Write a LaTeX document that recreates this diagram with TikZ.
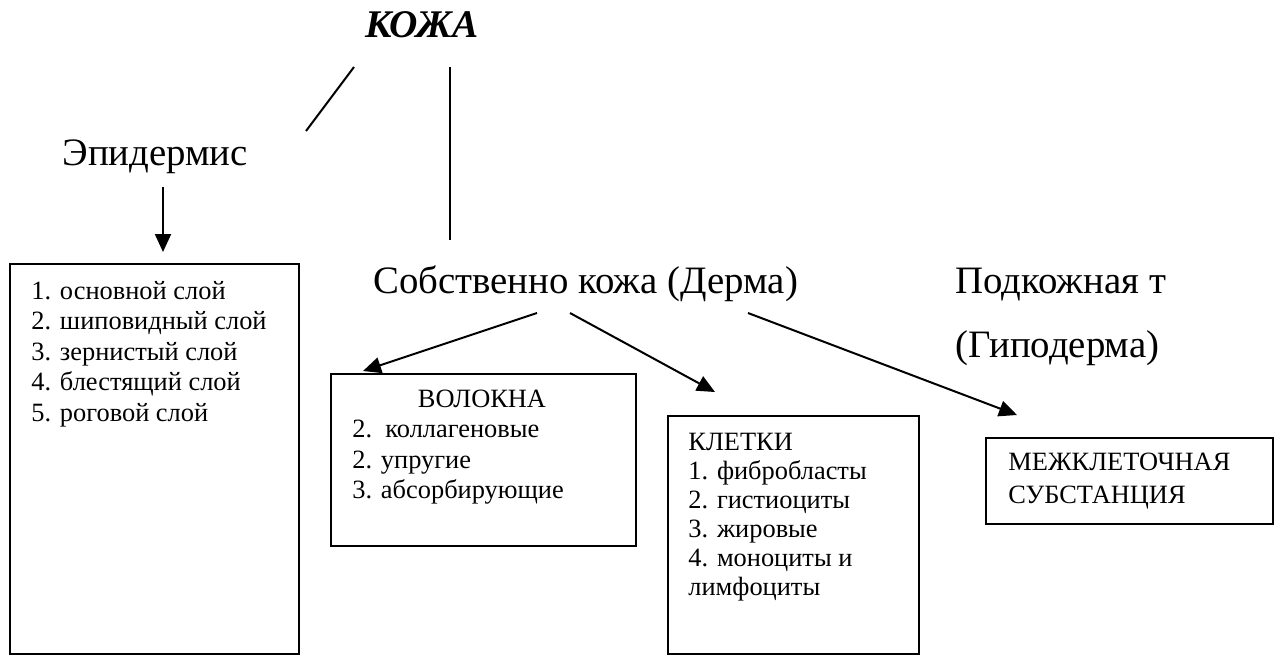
\documentclass[tikz,border=0pt]{standalone}
\usepackage{fontspec}
\setmainfont{Liberation Serif}
\usepackage{tikz}
\usetikzlibrary{arrows.meta}
\tikzset{
	heading/.style={font=\fontsize{19.4}{23}\selectfont, inner sep=0pt, anchor=base west},
	boxtext/.style={font=\fontsize{13.2}{15.25}\selectfont, inner sep=0pt, align=left, anchor=north west},
	frame/.style={draw, line width=0.9pt, inner sep=0pt, anchor=north west},
	link/.style={line width=1pt},
	arrow/.style={link, -{Triangle[length=9pt,width=8pt]}}
}
\newcommand{\layerbox}[5] % name, left in px, top in px, width in px, height in px
{
	% frame only, text is set on its own
	\node[frame, minimum width=#4*0.5pt, minimum height=#5*0.5pt] (#1) at (#2,#3) {};
}

\begin{document}
\begin{tikzpicture}[x=0.5pt, y=-0.5pt]
	% 1277px x 655px, origin top left
	% 1px = 0.5pt
	\useasboundingbox (0,0) rectangle (1277,655);

	% headings
	\node[font=\fontsize{19.6}{23}\selectfont\bfseries\itshape, inner sep=0pt, anchor=base] (skin) at (422,37) {КОЖА};
	\node[heading] (epi) at (62,165) {Эпидермис};
	\node[heading] (derm) at (373,293) {Собственно кожа (Дерма)};
	\node[heading] (hypo) at (955,293) {Подкожная т};
	\node[heading] (hypob) at (955,357) {(Гиподерма)};

	% frames
	\layerbox{layers}{9}{263}{289}{390};
	\layerbox{fibres}{330}{373}{305}{172};
	\layerbox{cells}{667}{415}{251}{238};
	\layerbox{matrix}{985}{437}{287}{86};

	% texts in the frames
	\node[boxtext] (layerlist) at (31,281) {1. основной слой\\2. шиповидный слой\\3. зернистый слой\\4. блестящий слой\\5. роговой слой};
	\node[boxtext, anchor=base] (fibtitle) at (482,407) {ВОЛОКНА};
	\node[boxtext] (fiblist) at (352,420) {2.~~коллагеновые\\2. упругие\\3. абсорбирующие};
	\node[boxtext, font=\fontsize{13.2}{14.5}\selectfont] (celllist) at (688,433) {КЛЕТКИ\\1. фибробласты\\2. гистиоциты\\3. жировые\\4. моноциты и\\лимфоциты};
	\node[boxtext, font=\fontsize{13.2}{16.5}\selectfont] (matrixtext) at (1008,453) {МЕЖКЛЕТОЧНАЯ\\СУБСТАНЦИЯ};

	% line ends
	\coordinate (skinl) at (354,67);
	\coordinate (epit) at (306,131);
	\coordinate (skinr) at (450,67);
	\coordinate (dermt) at (450,240);
	\coordinate (epib) at (163,187);
	\coordinate (layerst) at (163,252);
	\coordinate (derma) at (537,313);
	\coordinate (dermb) at (570,313);
	\coordinate (dermc) at (748,313);
	\coordinate (fibrest) at (363,371);
	\coordinate (cellst) at (715,392);
	\coordinate (matrixt) at (1017,415);

	% connectors
	\draw[link] (skinl) -- (epit);
	\draw[link] (skinr) -- (dermt);
	\draw[arrow] (epib) -- (layerst);
	\draw[arrow] (derma) -- (fibrest);
	\draw[arrow] (dermb) -- (cellst);
	\draw[arrow] (dermc) -- (matrixt);
\end{tikzpicture}
\end{document}
